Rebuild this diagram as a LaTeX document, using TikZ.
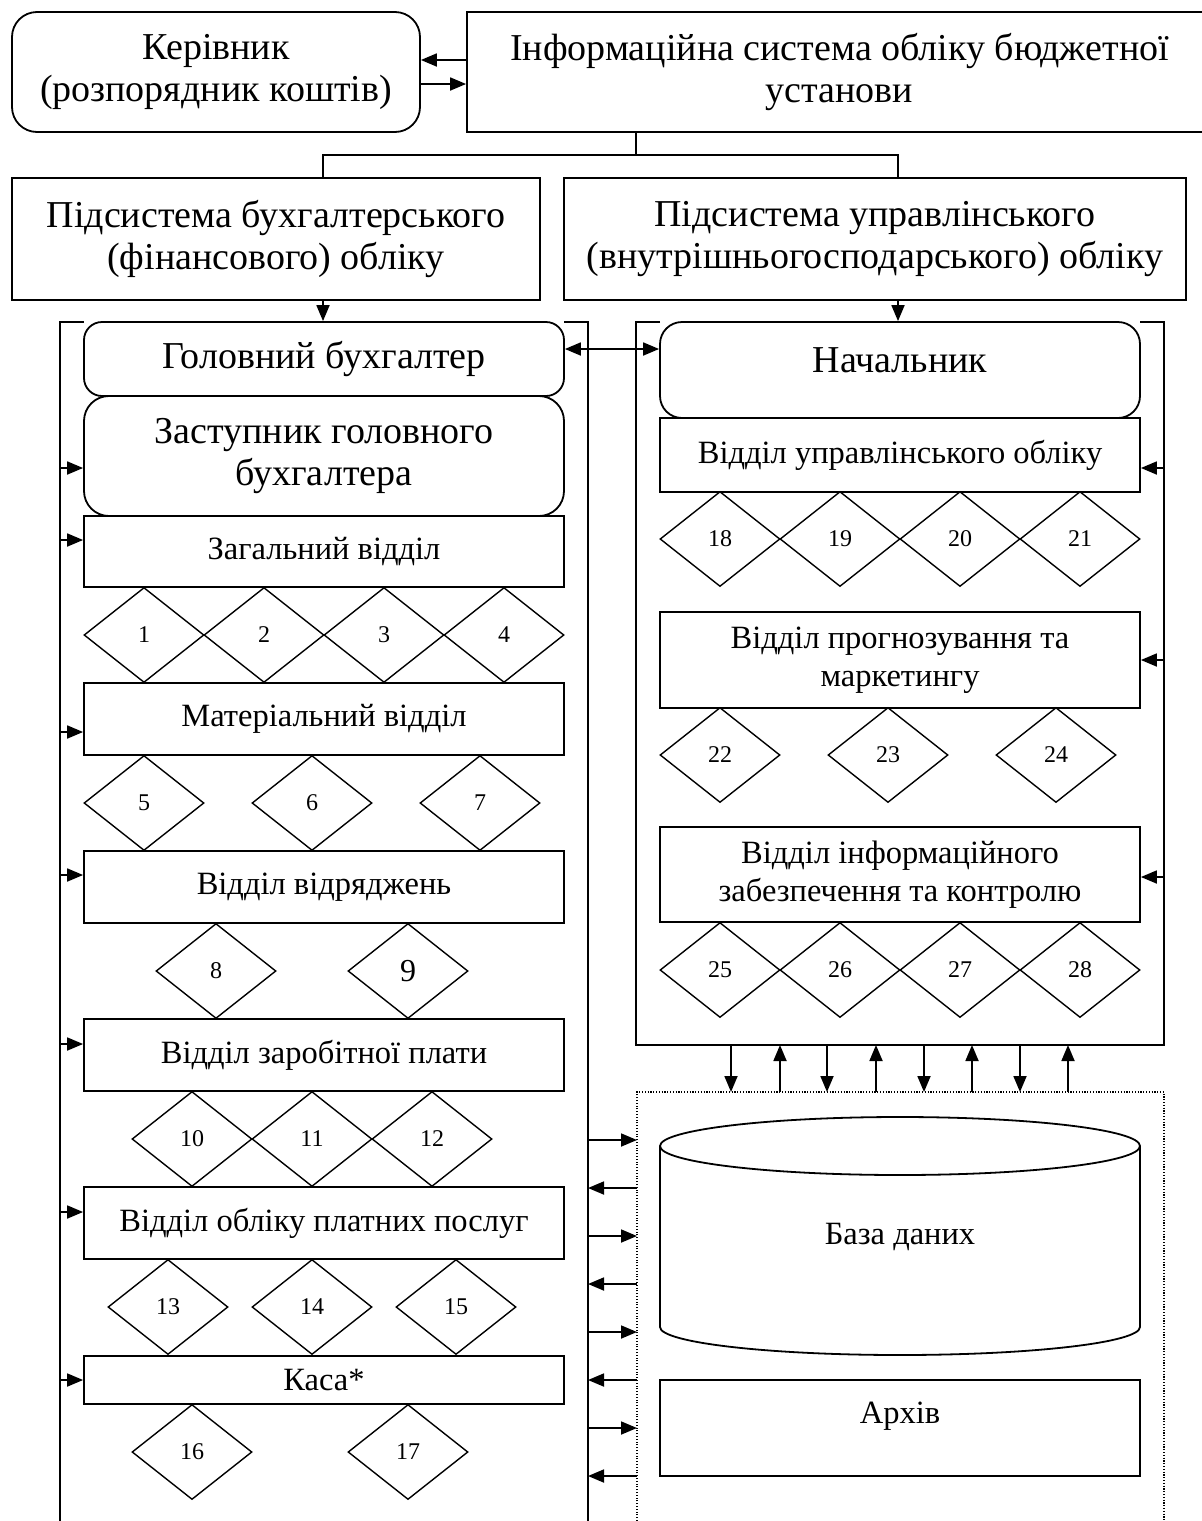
\documentclass[tikz,border=0pt]{standalone}
\usepackage{fontspec}
\setmainfont{Liberation Serif}
\usetikzlibrary{shapes.geometric,arrows.meta}
\begin{document}
\begin{tikzpicture}[x=1pt,y=-1pt,
  every node/.style={inner sep=0pt, align=center},
  bigtext/.style={font=\fontsize{38}{42}\selectfont},
  midtext/.style={font=\fontsize{32.5}{38}\selectfont},
  numtext/.style={font=\fontsize{24}{27}\selectfont},
  box/.style 2 args={draw, fill=white, line width=1.8pt, minimum width=#1, minimum height=#2},
  rbox/.style n args={3}{box={#1}{#2}, rounded corners=#3},
  dia/.style={diamond, draw, line width=1.4pt, minimum width=120pt, minimum height=95pt, numtext},
  line/.style={line width=1.8pt},
  tip/.tip={Triangle[length=16pt,width=13pt]},
  arr/.style={line width=1.8pt, -tip},
  darr/.style={line width=1.8pt, tip-tip},
  frame/.style={line width=1.8pt},
  dotframe/.style={line width=1.1pt, dash pattern=on 1.1pt off 1.7pt}
]
\useasboundingbox (0,0) rectangle (1202,1521);

% ---------- top level ----------
\node[rbox={408pt}{120pt}{25pt}, bigtext] (ker) at (216,72)
  {Керівник\\(розпорядник коштів)};
\begin{scope}
  \clip (0,0) rectangle (1202,1521);
  \node[box={745pt}{120pt}, bigtext] (info) at (839.5,72)
    {Інформаційна система обліку бюджетної\\установи};
\end{scope}
\draw[arr] (info.west |- 0,60) -- (ker.east |- 0,60);
\draw[arr] (ker.east |- 0,84) -- (info.west |- 0,84);

\node[box={528pt}{122pt}, bigtext] (pb) at (276,239)
  {Підсистема бухгалтерського\\(фінансового) обліку};
\node[box={622pt}{122pt}, bigtext] (pu) at (875,239)
  {Підсистема управлінського\\(внутрішньогосподарського) обліку};

\coordinate (split) at (636,155);
\draw[line] (info.south -| split) -- (split);
\draw[line] (323,178) |- (split) -| (898,178);

% ---------- frames ----------
\draw[frame] (60,1521) -- (60,322) -- (84,322);
\draw[frame] (564,322) -- (588,322) -- (588,1521);
\draw[frame] (660,322) -- (636,322) -- (636,1045) -- (1164,1045) -- (1164,322) -- (1140,322);
\draw[dotframe] (637,1521) -- (637,1092) -- (1164,1092) -- (1164,1521);

% ---------- accounting subsystem ----------
\node[rbox={480pt}{74pt}{18pt}, bigtext] (gb) at (324,359) {Головний бухгалтер};
\node[rbox={480pt}{120pt}{25pt}, bigtext] (zgb) at (324,456) {Заступник головного\\бухгалтера};
\node[box={480pt}{71pt}, midtext] (zag) at (324,551.5) {Загальний відділ};
\node[box={480pt}{72pt}, midtext] (mat) at (324,719) {Матеріальний відділ};
\node[box={480pt}{72pt}, midtext] (vidr) at (324,887) {Відділ відряджень};
\node[box={480pt}{72pt}, midtext] (zar) at (324,1055) {Відділ заробітної плати};
\node[box={480pt}{72pt}, midtext] (plat) at (324,1223) {Відділ обліку платних послуг};
\node[box={480pt}{48pt}, midtext] (kasa) at (324,1380) {Каса*};

\draw[arr] (pb.south -| 323,0) -- (gb.north -| 323,0);

\node[dia] (d1) at (144,635) {1};
\node[dia] (d2) at (264,635) {2};
\node[dia] (d3) at (384,635) {3};
\node[dia] (d4) at (504,635) {4};
\node[dia] (d5) at (144,803) {5};
\node[dia] (d6) at (312,803) {6};
\node[dia] (d7) at (480,803) {7};
\node[dia] (d8) at (216,971) {8};
\node[dia, font=\fontsize{32}{34}\selectfont] (d9) at (408,971) {9};
\node[dia] (d10) at (192,1139) {10};
\node[dia] (d11) at (312,1139) {11};
\node[dia] (d12) at (432,1139) {12};
\node[dia] (d13) at (168,1307) {13};
\node[dia] (d14) at (312,1307) {14};
\node[dia] (d15) at (456,1307) {15};
\node[dia] (d16) at (192,1452) {16};
\node[dia] (d17) at (408,1452) {17};

\foreach \yy/\tgt in {468/zgb, 540/zag, 732/mat, 875/vidr, 1044/zar, 1212/plat, 1380/kasa}{
  \coordinate (lf\tgt) at (60,\yy);
  \draw[arr] (lf\tgt) -- (lf\tgt -| \tgt.west);
}

% ---------- management subsystem ----------
\node[rbox={480pt}{96pt}{22pt}, bigtext, text height=50pt, text depth=46pt] (nach) at (900,370) {Начальник};
\node[box={480pt}{74pt}, midtext] (vuo) at (900,455) {Відділ управлінського обліку};
\node[box={480pt}{96pt}, midtext] (vpm) at (900,660) {Відділ прогнозування та\\маркетингу};
\node[box={480pt}{95pt}, midtext] (vizk) at (900,874.5) {Відділ інформаційного\\забезпечення та контролю};

\draw[arr] (pu.south -| 898,0) -- (nach.north -| 898,0);
\draw[darr] (gb.east |- 0,349) -- (nach.west |- 0,349);

\node[dia] (d18) at (720,539) {18};
\node[dia] (d19) at (840,539) {19};
\node[dia] (d20) at (960,539) {20};
\node[dia] (d21) at (1080,539) {21};
\node[dia] (d22) at (720,755) {22};
\node[dia] (d23) at (888,755) {23};
\node[dia] (d24) at (1056,755) {24};
\node[dia] (d25) at (720,970) {25};
\node[dia] (d26) at (840,970) {26};
\node[dia] (d27) at (960,970) {27};
\node[dia] (d28) at (1080,970) {28};

\foreach \yy/\tgt in {468/vuo, 660/vpm, 877/vizk}{
  \coordinate (rf\tgt) at (1164,\yy);
  \draw[arr] (rf\tgt) -- (rf\tgt -| \tgt.east);
}

% ---------- data storage ----------
\draw[line width=1.8pt] (900,1146) ellipse [x radius=240pt, y radius=29pt];
\draw[line width=1.8pt] (660,1146) -- (660,1327)
  arc[start angle=180, end angle=360, x radius=240pt, y radius=28pt] -- (1140,1146);
\node[midtext] (db) at (900,1237) {База даних};
\node[box={480pt}{96pt}, midtext, text height=43pt, text depth=53pt] (arch) at (900,1428) {Архів};

% exchange between the management frame and the storage
\foreach \xx [count=\i] in {731,780,827,876,924,972,1020,1068}{
  \coordinate (ut\i) at (\xx,1045);
  \coordinate (ub\i) at (\xx,1092);
  \ifodd\i
    \draw[arr] (ut\i) -- (ub\i);
  \else
    \draw[arr] (ub\i) -- (ut\i);
  \fi
}

% exchange between the accounting frame and the storage
\foreach \yy [count=\i] in {1140,1188,1236,1284,1332,1380,1428,1476}{
  \coordinate (sl\i) at (588,\yy);
  \coordinate (sr\i) at (637,\yy);
  \ifodd\i
    \draw[arr] (sl\i) -- (sr\i);
  \else
    \draw[arr] (sr\i) -- (sl\i);
  \fi
}
\end{tikzpicture}
\end{document}
